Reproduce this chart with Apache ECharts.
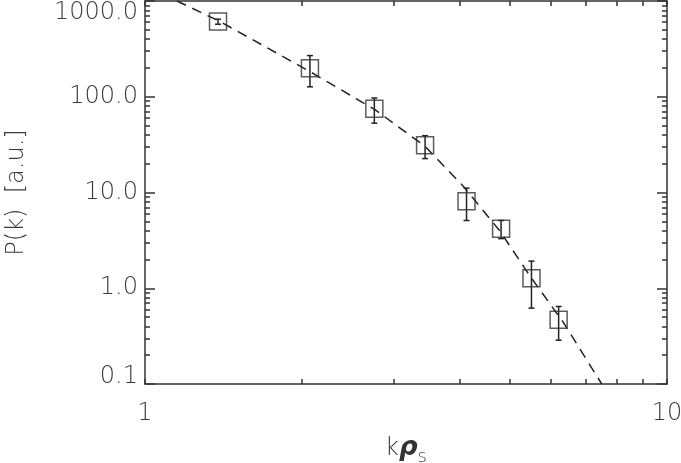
<!DOCTYPE html>
<html>
<head>
<meta charset="utf-8">
<script src="https://cdn.jsdelivr.net/npm/echarts@6/dist/echarts.min.js"></script>
<style>
  html, body { margin: 0; padding: 0; background: #fff; }
  #chart { width: 681px; height: 463px; }
</style>
</head>
<body>
<div id="chart"></div>
<script>
// measured spectrum (squares) with error bars
const kRho = [1.38, 2.07, 2.75, 3.44, 4.13, 4.81, 5.50, 6.20];
const power = [609, 199, 75, 31.1, 8.1, 4.19, 1.27, 0.468];
const errLow = [572, 127, 53, 22.6, 5.1, 3.3, 0.62, 0.287];
const errHigh = [646, 269, 97, 39.2, 11.1, 5.1, 1.92, 0.645];

// dashed curve
const fitK = [1.151, 1.158, 1.382, 2.071, 2.758, 3.439, 4.072, 4.787, 5.464, 6.33, 7.33, 7.5];
const fitP = [1000, 984, 623, 183, 73.2, 30.4, 11.6, 3.95, 1.34, 0.44, 0.122, 0.1];

const frame = '#333';
const textColor = '#3a3a3a';
const font = 'DejaVu Sans';

let chart = echarts.init(document.getElementById('chart'));

function logAxis(pos, min, max, showLabel, tickLen) {
  return {
    type: 'log',
    logBase: 10,
    position: pos,
    min: min,
    max: max,
    axisLine: { show: true, lineStyle: { color: frame, width: 1.5 } },
    axisTick: { show: true, inside: true, length: tickLen, lineStyle: { color: frame, width: 1.5 } },
    minorTick: { show: true, splitNumber: 9, length: 5, lineStyle: { color: frame, width: 1.5 } },
    splitLine: { show: false },
    minorSplitLine: { show: false },
    axisLabel: { show: showLabel }
  };
}

let xBottom = logAxis('bottom', 1, 10, true, 5);
xBottom.axisLabel = {
  show: true,
  margin: 18,
  color: textColor,
  fontFamily: font,
  fontWeight: 200,
  fontSize: 24,
  formatter: v => String(Math.round(v))
};
xBottom.name = 'k{r|ρ}{s|s}';
xBottom.nameLocation = 'middle';
xBottom.nameGap = 47;
xBottom.nameMoveOverlap = false;
xBottom.nameTextStyle = {
  color: textColor, fontFamily: font, fontWeight: 200, fontSize: 24,
  rich: {
    r: { color: '#333', fontFamily: font, fontSize: 26, fontStyle: 'italic', fontWeight: 'bold' },
    s: { color: textColor, fontFamily: font, fontWeight: 200, fontSize: 18, padding: [17, 0, 0, 0] }
  }
};

let xTop = logAxis('top', 1, 10, false, 5);

let yLeft = logAxis('left', 0.1, 1000, true, 10);
yLeft.axisLabel = {
  show: true,
  margin: 7,
  color: textColor,
  fontFamily: font,
  fontWeight: 200,
  fontSize: 24,
  formatter: v => {
    const s = Number(v).toFixed(1);
    if (v >= 999) return '{top|' + s + '}';
    if (v <= 0.11) return '{bot|' + s + '}';
    return s;
  },
  rich: {
    top: { color: textColor, fontFamily: font, fontWeight: 200, fontSize: 24, padding: [24, 0, 0, 0] },
    bot: { color: textColor, fontFamily: font, fontWeight: 200, fontSize: 24, padding: [0, 0, 14, 0] }
  }
};
yLeft.name = 'P(k)  [a.u.]';
yLeft.nameLocation = 'middle';
yLeft.nameGap = 116;
yLeft.nameMoveOverlap = false;
yLeft.nameTextStyle = { color: textColor, fontFamily: font, fontWeight: 200, fontSize: 24 };

let yRight = logAxis('right', 0.1, 1000, false, 10);

chart.setOption({
  animation: false,
  backgroundColor: '#fff',
  grid: { left: 145, right: 14, top: 1, bottom: 79, containLabel: false, outerBoundsMode: 'none' },
  xAxis: [xBottom, xTop],
  yAxis: [yLeft, yRight],
  series: [
    {
      name: 'fit',
      type: 'line',
      xAxisIndex: 0,
      yAxisIndex: 0,
      data: fitK.map((k, i) => [k, fitP[i]]),
      showSymbol: false,
      clip: true,
      lineStyle: { color: '#222', width: 1.5, type: [10, 7] },
      z: 2
    },
    {
      name: 'errors',
      type: 'custom',
      xAxisIndex: 0,
      yAxisIndex: 0,
      data: kRho.map((k, i) => [k, errLow[i], errHigh[i]]),
      encode: { x: 0, y: [1, 2] },
      renderItem: function (params, api) {
        const lo = api.coord([api.value(0), api.value(1)]);
        const hi = api.coord([api.value(0), api.value(2)]);
        const w = 3;
        const st = { stroke: '#222', lineWidth: 1.5 };
        return {
          type: 'group',
          children: [
            { type: 'line', shape: { x1: lo[0], y1: lo[1], x2: hi[0], y2: hi[1] }, style: st },
            { type: 'line', shape: { x1: lo[0] - w, y1: lo[1], x2: lo[0] + w, y2: lo[1] }, style: st },
            { type: 'line', shape: { x1: hi[0] - w, y1: hi[1], x2: hi[0] + w, y2: hi[1] }, style: st }
          ]
        };
      },
      z: 3
    },
    {
      name: 'P(k)',
      type: 'scatter',
      xAxisIndex: 0,
      yAxisIndex: 0,
      data: kRho.map((k, i) => [k, power[i]]),
      symbol: 'rect',
      symbolSize: 17,
      itemStyle: { color: 'rgba(0,0,0,0)', borderColor: '#333', borderWidth: 1.5 },
      z: 4
    }
  ]
});
</script>
</body>
</html>
